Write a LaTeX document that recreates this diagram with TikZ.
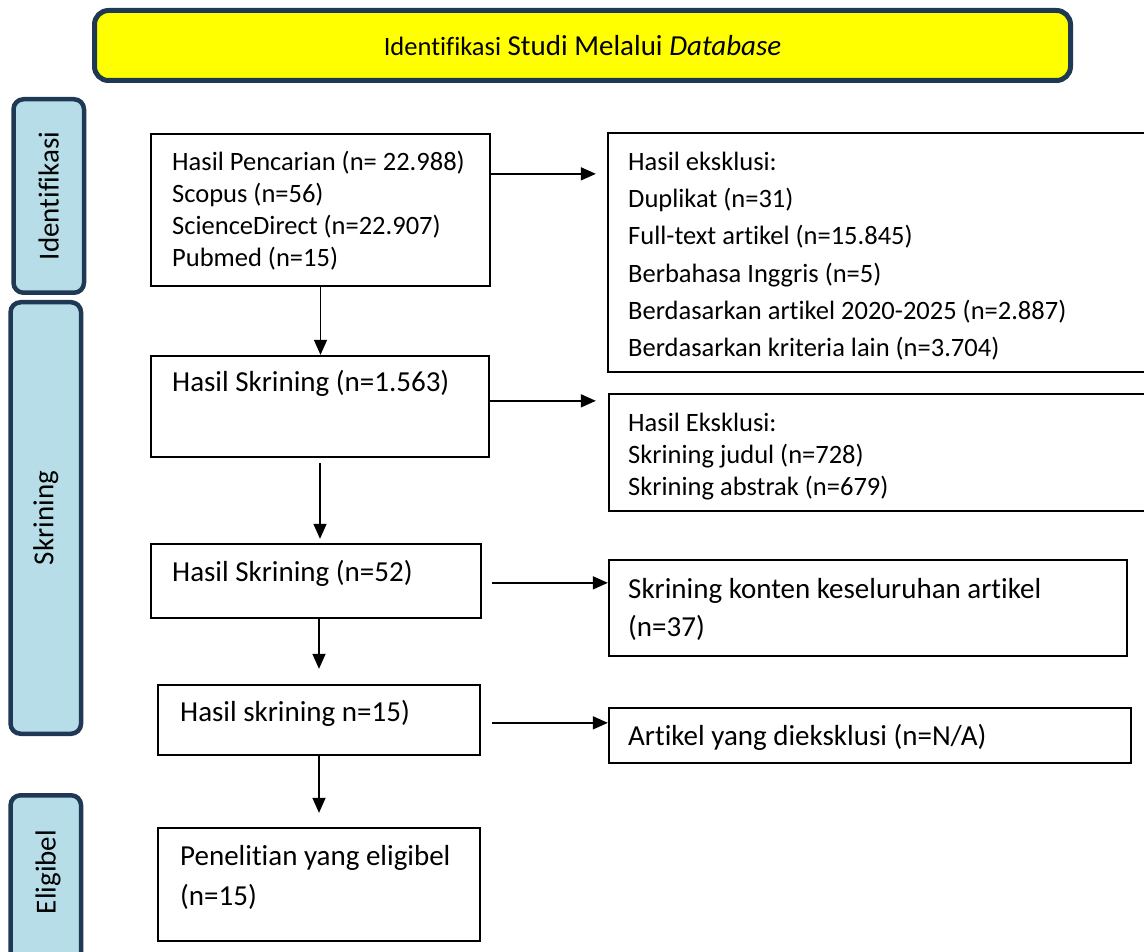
\documentclass[tikz,border=0pt]{standalone}
\usepackage{fontspec}
\setmainfont{Carlito}[Ligatures=NoCommon]
\usetikzlibrary{arrows.meta}
\definecolor{navy}{RGB}{31,56,84}
\definecolor{sideblue}{RGB}{183,222,232}
\definecolor{titleyellow}{RGB}{255,255,0}
\newcommand{\lines}[1]{\begin{tabular}[t]{@{}l@{}}#1\end{tabular}}
\begin{document}
\begin{tikzpicture}[x=1pt,y=-1pt,
 box/.style={draw=black,line width=1.8pt,inner sep=0pt},
 side/.style={draw=navy,fill=sideblue,line width=4.5pt,rounded corners=10pt,inner sep=0pt},
 arr/.style={draw=black,line width=1.5pt,-{Triangle[length=15pt,width=13pt]}},
 small/.style={font=\fontsize{26.5}{32}\selectfont},
 big/.style={font=\fontsize{29}{38}\selectfont},
 txt/.style={inner sep=0pt,anchor=base west}
]
\useasboundingbox (0,0) rectangle (1144,952);
\clip (0,0) rectangle (1144,952);
% title
\node[draw=navy,fill=titleyellow,line width=5pt,rounded corners=14pt,minimum width=976pt,minimum height=70pt,inner sep=0pt,font=\fontsize{29}{34}\selectfont] (title) at (582.5,45.5)
 {{\fontsize{26.5}{32}\selectfont Identifikasi} Studi Melalui \textit{Database}};
% side boxes
\node[side,rotate=90,minimum width=193.5pt,minimum height=70.5pt,big] (sid) at (48.75,196) {Identifikasi};
\node[side,rotate=90,minimum width=431.5pt,minimum height=70.5pt,big] (sskr) at (45.8,518) {Skrining};
\node[side,minimum width=70.5pt,minimum height=205pt] (selg) at (45.8,897.75) {};
\node[rotate=90,big,inner sep=0pt] (selgt) at (48,872) {Eligibel};
% main boxes
\node[box,minimum width=339.5pt,minimum height=152.5pt] (b1) at (320.5,210) {};
\node[box,minimum width=338.5pt,minimum height=101.5pt] (b2) at (320,406.5) {};
\node[box,minimum width=330.5pt,minimum height=74.5pt] (b3) at (316,581) {};
\node[box,minimum width=322.5pt,minimum height=70.5pt] (b4) at (319,720) {};
\node[box,minimum width=322.5pt,minimum height=113.5pt] (b5) at (319,884.5) {};
% right boxes
\node[box,minimum width=551.5pt,minimum height=239.5pt] (r1) at (883.5,252.5) {};
\node[box,minimum width=550.5pt,minimum height=117.5pt] (r2) at (884,452.5) {};
\node[box,minimum width=518.5pt,minimum height=96.5pt] (r3) at (868,608) {};
\node[box,minimum width=522.5pt,minimum height=55.5pt] (r4) at (870,735.5) {};
% texts
\node[txt,small] (b1t) at (172,170.5) {\lines{Hasil Pencarian (n= 22.988)\\Scopus (n=56)\\ScienceDirect (n=22.907)\\Pubmed (n=15)}};
\node[txt,big] (b2t) at (172,391.7) {Hasil Skrining (n=1.563)};
\node[txt,big] (b3t) at (172,581.7) {Hasil Skrining (n=52)};
\node[txt,big] (b4t) at (180,721.7) {Hasil skrining n=15)};
\node[txt,font=\fontsize{29}{40}\selectfont] (b5t) at (180,865.7) {\lines{Penelitian yang eligibel\\(n=15)}};
\node[txt,font=\fontsize{26.5}{37.2}\selectfont] (r1t) at (628,170.5) {\lines{Hasil eksklusi:\\Duplikat (n=31)\\Full-text artikel (n=15.845)\\Berbahasa Inggris (n=5)\\Berdasarkan artikel 2020-2025 (n=2.887)\\Berdasarkan kriteria lain (n=3.704)}};
\node[txt,small] (r2t) at (628,431) {\lines{Hasil Eksklusi:\\Skrining judul (n=728)\\Skrining abstrak (n=679)}};
\node[txt,big] (r3t) at (628,598.7) {\lines{Skrining konten keseluruhan artikel\\(n=37)}};
\node[txt,big] (r4t) at (628,745.7) {Artikel yang dieksklusi (n=N/A)};
% horizontal arrows
\draw[arr] ([yshift=-41pt]b1.north east) -- ([xshift=-11pt,yshift=-42pt]r1.north west);
\draw[arr] ([yshift=-46pt]b2.north east) -- ([xshift=-12pt,yshift=-8pt]r2.north west);
\draw[arr] ([xshift=10pt,yshift=-40pt]b3.north east) -- ([yshift=-24pt]r3.north west);
\draw[arr] ([xshift=11pt,yshift=-39pt]b4.north east) -- ([yshift=-16pt]r4.north west);
% vertical arrows
\coordinate (v2e) at (b2.south |- b3.north);
\draw[arr] (b1.south) -- (b1.south |- b2.north);
\draw[arr] ([yshift=-5pt]b2.south) -- ([yshift=4pt]v2e);
\draw[arr] (b3.south -| b4.south) -- ([yshift=15pt]b4.north);
\draw[arr] (b4.south) -- ([yshift=14pt]b5.north);
\end{tikzpicture}
\end{document}
